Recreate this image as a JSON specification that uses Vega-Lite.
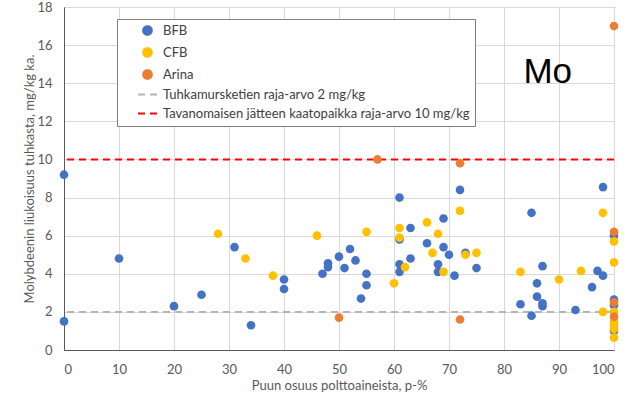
{
  "$schema": "https://vega.github.io/schema/vega-lite/v6.json",
  "width": 550,
  "height": 343,
  "autosize": "none",
  "padding": {"left": 64, "top": 7, "right": 19, "bottom": 47},
  "background": "white",
  "title": {
    "text": "Mo",
    "orient": "top",
    "anchor": "end",
    "frame": "group",
    "font": "Liberation Sans",
    "fontSize": 35,
    "fontWeight": "normal",
    "color": "black",
    "baseline": "alphabetic",
    "offset": 0,
    "dx": -42,
    "dy": 117
  },
  "config": {
    "font": "Lato",
    "view": {"stroke": "#595959", "strokeWidth": 1},
    "axis": {
      "gridColor": "#D9D9D9",
      "gridWidth": 1,
      "domainColor": "#595959",
      "ticks": false,
      "tickSize": 0,
      "labelColor": "#595959",
      "titleColor": "#595959",
      "labelFontSize": 13,
      "titleFontSize": 13,
      "titleFontWeight": "normal",
      "labelFont": "Lato",
      "titleFont": "Lato",
      "labelOverlap": false
    }
  },
  "datasets": {
    "limits": [
      {"series": "Tuhkamursketien raja-arvo 2 mg/kg", "value": 2},
      {"series": "Tavanomaisen jätteen kaatopaikka raja-arvo 10 mg/kg", "value": 10}
    ],
    "points": [
      {"series": "BFB", "wood": 0, "mo": 9.2},
      {"series": "BFB", "wood": 0, "mo": 1.5},
      {"series": "BFB", "wood": 10, "mo": 4.8},
      {"series": "BFB", "wood": 20, "mo": 2.3},
      {"series": "BFB", "wood": 25, "mo": 2.9},
      {"series": "BFB", "wood": 31, "mo": 5.4},
      {"series": "BFB", "wood": 34, "mo": 1.3},
      {"series": "BFB", "wood": 40, "mo": 3.7},
      {"series": "BFB", "wood": 40, "mo": 3.2},
      {"series": "BFB", "wood": 47, "mo": 4.0},
      {"series": "BFB", "wood": 48, "mo": 4.55},
      {"series": "BFB", "wood": 48, "mo": 4.35},
      {"series": "BFB", "wood": 50, "mo": 4.9},
      {"series": "BFB", "wood": 51, "mo": 4.3},
      {"series": "BFB", "wood": 52, "mo": 5.3},
      {"series": "BFB", "wood": 53, "mo": 4.7},
      {"series": "BFB", "wood": 54, "mo": 2.7},
      {"series": "BFB", "wood": 55, "mo": 4.0},
      {"series": "BFB", "wood": 55, "mo": 3.4},
      {"series": "BFB", "wood": 61, "mo": 8.0},
      {"series": "BFB", "wood": 61, "mo": 5.8},
      {"series": "BFB", "wood": 61, "mo": 4.5},
      {"series": "BFB", "wood": 61, "mo": 4.1},
      {"series": "BFB", "wood": 63, "mo": 6.4},
      {"series": "BFB", "wood": 63, "mo": 4.8},
      {"series": "BFB", "wood": 66, "mo": 5.6},
      {"series": "BFB", "wood": 68, "mo": 4.5},
      {"series": "BFB", "wood": 68, "mo": 4.1},
      {"series": "BFB", "wood": 69, "mo": 6.9},
      {"series": "BFB", "wood": 69, "mo": 5.4},
      {"series": "BFB", "wood": 70, "mo": 5.0},
      {"series": "BFB", "wood": 71, "mo": 3.9},
      {"series": "BFB", "wood": 72, "mo": 8.4},
      {"series": "BFB", "wood": 73, "mo": 5.1},
      {"series": "BFB", "wood": 75, "mo": 4.3},
      {"series": "BFB", "wood": 83, "mo": 2.4},
      {"series": "BFB", "wood": 85, "mo": 7.2},
      {"series": "BFB", "wood": 85, "mo": 1.8},
      {"series": "BFB", "wood": 86, "mo": 3.5},
      {"series": "BFB", "wood": 86, "mo": 2.8},
      {"series": "BFB", "wood": 87, "mo": 4.4},
      {"series": "BFB", "wood": 87, "mo": 2.45},
      {"series": "BFB", "wood": 87, "mo": 2.3},
      {"series": "BFB", "wood": 93, "mo": 2.1},
      {"series": "BFB", "wood": 96, "mo": 3.3},
      {"series": "BFB", "wood": 97, "mo": 4.15},
      {"series": "BFB", "wood": 98, "mo": 8.55},
      {"series": "BFB", "wood": 98, "mo": 3.9},
      {"series": "BFB", "wood": 100, "mo": 6.0},
      {"series": "BFB", "wood": 100, "mo": 2.65},
      {"series": "BFB", "wood": 100, "mo": 2.35},
      {"series": "BFB", "wood": 100, "mo": 1.0},
      {"series": "CFB", "wood": 28, "mo": 6.1},
      {"series": "CFB", "wood": 33, "mo": 4.8},
      {"series": "CFB", "wood": 38, "mo": 3.9},
      {"series": "CFB", "wood": 46, "mo": 6.0},
      {"series": "CFB", "wood": 55, "mo": 6.2},
      {"series": "CFB", "wood": 60, "mo": 3.5},
      {"series": "CFB", "wood": 61, "mo": 6.4},
      {"series": "CFB", "wood": 61, "mo": 5.9},
      {"series": "CFB", "wood": 62, "mo": 4.35},
      {"series": "CFB", "wood": 66, "mo": 6.7},
      {"series": "CFB", "wood": 67, "mo": 5.1},
      {"series": "CFB", "wood": 68, "mo": 6.1},
      {"series": "CFB", "wood": 69, "mo": 4.1},
      {"series": "CFB", "wood": 72, "mo": 7.3},
      {"series": "CFB", "wood": 73, "mo": 5.0},
      {"series": "CFB", "wood": 75, "mo": 5.1},
      {"series": "CFB", "wood": 83, "mo": 4.1},
      {"series": "CFB", "wood": 90, "mo": 3.7},
      {"series": "CFB", "wood": 94, "mo": 4.15},
      {"series": "CFB", "wood": 98, "mo": 7.2},
      {"series": "CFB", "wood": 98, "mo": 2.0},
      {"series": "CFB", "wood": 100, "mo": 5.7},
      {"series": "CFB", "wood": 100, "mo": 4.6},
      {"series": "CFB", "wood": 100, "mo": 2.0},
      {"series": "CFB", "wood": 100, "mo": 1.5},
      {"series": "CFB", "wood": 100, "mo": 1.3},
      {"series": "CFB", "wood": 100, "mo": 1.1},
      {"series": "CFB", "wood": 100, "mo": 0.65},
      {"series": "Arina", "wood": 50, "mo": 1.7},
      {"series": "Arina", "wood": 57, "mo": 10.0},
      {"series": "Arina", "wood": 72, "mo": 9.8},
      {"series": "Arina", "wood": 72, "mo": 1.6},
      {"series": "Arina", "wood": 100, "mo": 17.0},
      {"series": "Arina", "wood": 100, "mo": 6.2},
      {"series": "Arina", "wood": 100, "mo": 2.5},
      {"series": "Arina", "wood": 100, "mo": 1.75}
    ]
  },
  "layer": [
    {
      "data": {"name": "limits"},
      "mark": {"type": "rule", "strokeWidth": 2, "strokeDash": [7, 5]},
      "encoding": {
        "y": {
          "field": "value", "type": "quantitative",
          "scale": {"domain": [0, 18], "nice": false},
          "axis": {"values": [0, 2, 4, 6, 8, 10, 12, 14, 16, 18], "tickCount": 10, "labelOverlap": false, "title": "Molybdeenin liukoisuus tuhkasta, mg/kg ka.", "labelPadding": 12, "titleX": -31, "titleBaseline": "alphabetic"}
        },
        "color": {
          "field": "series", "type": "nominal",
          "scale": {
            "domain": ["BFB", "CFB", "Arina", "Tuhkamursketien raja-arvo 2 mg/kg", "Tavanomaisen jätteen kaatopaikka raja-arvo 10 mg/kg"],
            "range": ["#4472C4", "#FFC000", "#ED7D31", "#B4B4B4", "#FF0000"]
          },
          "legend": {
            "title": null,
            "orient": "none",
            "legendX": 53,
            "legendY": 12,
            "padding": 5,
            "symbolOffset": 19,
            "labelOffset": 9,
            "rowPadding": 5,
            "symbolSize": 100,
            "labelFontSize": 13,
            "labelFont": "Lato",
            "labelColor": "#404040",
            "labelLimit": 400,
            "strokeColor": "#7F7F7F",
            "fillColor": "white",
            "encode": {
              "symbols": {
                "update": {
                  "shape": {"signal": "indexof(['BFB','CFB','Arina'], datum.value) >= 0 ? 'circle' : 'M-1.9,0H-0.5M0.5,0H1.9'"},
                  "size": {"signal": "indexof(['BFB','CFB','Arina'], datum.value) >= 0 ? 75 : 100"},
                  "fill": {"signal": "indexof(['BFB','CFB','Arina'], datum.value) >= 0 ? scale('color', datum.value) : 'transparent'"},
                  "stroke": {"signal": "indexof(['BFB','CFB','Arina'], datum.value) >= 0 ? 'transparent' : scale('color', datum.value)"},
                  "strokeWidth": {"value": 2},
                  "strokeDash": {"value": [1, 0]},
                  "opacity": {"value": 1},
                  "fillOpacity": {"value": 1},
                  "strokeOpacity": {"value": 1}
                }
              }
            }
          }
        }
      }
    },
    {
      "data": {"name": "points"},
      "mark": {"type": "circle", "size": 75, "opacity": 1},
      "encoding": {
        "x": {
          "field": "wood", "type": "quantitative",
          "scale": {"domain": [0, 100], "nice": false},
          "axis": {"values": [0, 10, 20, 30, 40, 50, 60, 70, 80, 90, 100], "title": "Puun osuus polttoaineista, p-%", "labelPadding": 13, "titlePadding": 3}
        },
        "y": {
          "field": "mo", "type": "quantitative",
          "scale": {"domain": [0, 18], "nice": false},
          "axis": {"values": [0, 2, 4, 6, 8, 10, 12, 14, 16, 18], "tickCount": 10, "labelOverlap": false, "title": "Molybdeenin liukoisuus tuhkasta, mg/kg ka.", "labelPadding": 12, "titleX": -31, "titleBaseline": "alphabetic"}
        },
        "color": {"field": "series", "type": "nominal"}
      }
    }
  ]
}
